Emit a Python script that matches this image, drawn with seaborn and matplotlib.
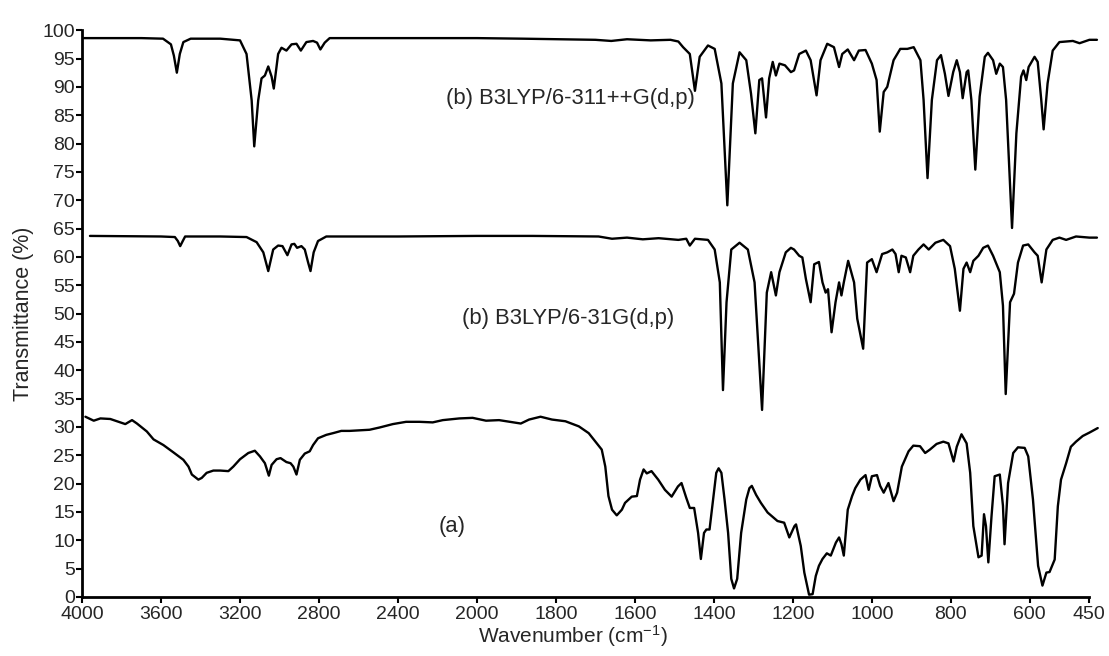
import numpy as np
import pandas as pd
import matplotlib
matplotlib.use("Agg")
import matplotlib.pyplot as plt
import seaborn as sns

# ---------------- data ----------------
wn_b1 = [3990, 3700, 3590, 3550, 3535, 3520, 3505, 3487, 3450, 3300, 3200, 3167, 3141, 3128, 3108, 3091,
         3074, 3057, 3040, 3029, 3007, 2990, 2965, 2939, 2914, 2892, 2864, 2830, 2810, 2793, 2771, 2746,
         2400, 2000, 1885, 1800, 1700, 1660, 1620, 1560, 1510, 1490, 1478, 1461, 1448, 1436, 1415, 1398,
         1381, 1366, 1352, 1335, 1318, 1306, 1295, 1285, 1278, 1268, 1260, 1251, 1243, 1234, 1220, 1205,
         1197, 1184, 1167, 1155, 1140, 1130, 1113, 1096, 1083, 1075, 1061, 1045, 1033, 1016, 1000, 988,
         980, 970, 961, 945, 928, 910, 894, 877, 869, 859, 848, 835, 825, 815, 806, 794, 785, 777, 770,
         760, 756, 748, 738, 727, 714, 706, 693, 685, 676, 668, 660, 645, 634, 622, 616, 609, 603, 588,
         580, 571, 565, 555, 542, 525, 491, 474, 449, 430]
t_b1 = [98.6, 98.6, 98.5, 97.5, 95.5, 92.5, 95.8, 97.9, 98.5, 98.5, 98.2, 95.8, 87.6, 79.5, 87.6, 91.5,
        92.0, 93.6, 91.8, 89.7, 95.8, 96.9, 96.4, 97.5, 97.6, 96.4, 97.9, 98.1, 97.8, 96.6, 97.8, 98.6,
        98.6, 98.6, 98.5, 98.4, 98.3, 98.1, 98.4, 98.2, 98.3, 98.0, 97.0, 95.8, 89.3, 95.3, 97.3, 96.7,
        90.6, 69.1, 90.6, 96.1, 94.7, 88.8, 81.8, 91.2, 91.5, 84.6, 91.5, 94.4, 92.0, 94.1, 93.8, 92.6,
        92.9, 95.8, 96.4, 94.7, 88.5, 94.7, 97.6, 97.0, 93.5, 95.8, 96.6, 94.7, 96.4, 96.5, 94.1, 91.2,
        82.1, 89.1, 90.0, 94.7, 96.7, 96.7, 97.0, 94.7, 87.7, 73.9, 87.7, 94.7, 95.6, 92.3, 88.4, 92.6,
        94.7, 92.6, 88.0, 92.6, 92.9, 87.7, 75.4, 88.3, 95.3, 96.0, 94.7, 92.3, 94.1, 93.5, 87.7, 65.1,
        81.8, 91.8, 92.9, 91.2, 93.5, 95.3, 94.4, 87.7, 82.5, 90.6, 96.4, 97.9, 98.1, 97.7, 98.3, 98.3]

wn_b2 = [3960, 3600, 3530, 3515, 3503, 3490, 3478, 3300, 3167, 3116, 3082, 3057, 3032, 3007, 2985, 2960,
         2939, 2925, 2911, 2889, 2872, 2855, 2843, 2827, 2805, 2763, 2400, 2000, 1860, 1692, 1658, 1620,
         1580, 1540, 1490, 1470, 1461, 1448, 1415, 1398, 1385, 1377, 1368, 1356, 1335, 1314, 1297, 1278,
         1266, 1255, 1243, 1234, 1218, 1205, 1197, 1184, 1176, 1167, 1155, 1146, 1134, 1125, 1117, 1111,
         1102, 1092, 1083, 1077, 1071, 1060, 1045, 1037, 1022, 1012, 1000, 988, 974, 961, 948, 940, 932,
         925, 914, 903, 895, 882, 869, 856, 839, 819, 802, 790, 777, 768, 760, 751, 743, 730, 718, 706,
         693, 676, 668, 661, 650, 640, 630, 617, 604, 588, 580, 570, 558, 542, 525, 508, 483, 449, 430]
t_b2 = [63.7, 63.6, 63.5, 62.8, 61.9, 62.8, 63.6, 63.6, 63.5, 62.6, 60.8, 57.5, 61.3, 62.0, 61.9, 60.3,
        62.2, 62.3, 61.6, 61.9, 61.3, 59.0, 57.5, 60.8, 62.8, 63.6, 63.6, 63.7, 63.7, 63.6, 63.2, 63.4,
        63.1, 63.3, 63.0, 63.2, 62.0, 63.2, 63.0, 61.3, 55.5, 36.5, 52.0, 61.3, 62.5, 61.3, 55.5, 33.0,
        53.7, 57.3, 53.2, 57.3, 60.8, 61.6, 61.3, 60.2, 59.9, 56.1, 52.0, 58.7, 59.1, 55.5, 53.7, 54.3,
        46.7, 52.0, 55.5, 53.2, 55.5, 59.3, 55.5, 49.1, 43.8, 59.0, 59.6, 57.3, 60.5, 60.8, 61.3, 60.5, 57.3,
        60.2, 59.9, 57.3, 60.2, 61.3, 62.2, 61.3, 62.5, 63.0, 61.9, 57.9, 50.5, 57.9, 59.0, 57.3, 59.3, 60.2,
        61.6, 62.0, 60.2, 57.3, 51.4, 35.8, 52.0, 53.5, 59.0, 62.0, 62.2, 60.8, 60.2, 55.5, 61.3, 63.0,
        63.4, 63.0, 63.6, 63.4, 63.4]

wn_a = [3983, 3941, 3907, 3857, 3781, 3747, 3722, 3672, 3638, 3588, 3537, 3487, 3461, 3444, 3411, 3394,
        3369, 3335, 3300, 3259, 3234, 3200, 3158, 3125, 3099, 3074, 3054, 3040, 3015, 2995, 2965, 2944,
        2930, 2914, 2897, 2872, 2847, 2830, 2805, 2763, 2729, 2687, 2645, 2594, 2544, 2493, 2426, 2359,
        2291, 2224, 2173, 2089, 2022, 1977, 1944, 1889, 1868, 1839, 1810, 1776, 1742, 1717, 1700, 1684,
        1675, 1667, 1658, 1646, 1633, 1625, 1608, 1595, 1587, 1578, 1570, 1558, 1541, 1524, 1507, 1491,
        1482, 1470, 1461, 1450, 1440, 1433, 1425, 1419, 1411, 1402, 1394, 1388, 1381, 1373, 1364, 1356,
        1349, 1341, 1331, 1318, 1310, 1304, 1293, 1281, 1264, 1239, 1222, 1209, 1196, 1192, 1180, 1171,
        1159, 1150, 1142, 1134, 1125, 1114, 1104, 1091, 1083, 1077, 1071, 1061, 1050, 1042, 1029, 1016,
        1008, 1000, 987, 979, 970, 958, 945, 936, 924, 907, 895, 878, 865, 853, 836, 819, 806, 793, 785,
        773, 760, 751, 743, 730, 722, 716, 711, 705, 697, 689, 676, 668, 664, 655, 642, 630, 613, 604,
        592, 579, 568, 558, 550, 537, 529, 521, 508, 496, 483, 466, 449, 428]
t_a = [31.8, 31.1, 31.5, 31.4, 30.5, 31.2, 30.6, 29.2, 27.8, 26.8, 25.5, 24.2, 23.0, 21.6, 20.7, 21.0,
       21.9, 22.3, 22.3, 22.2, 23.0, 24.3, 25.4, 25.8, 24.8, 23.6, 21.4, 23.3, 24.3, 24.5, 23.8, 23.6,
       23.0, 21.6, 24.2, 25.3, 25.7, 26.8, 28.0, 28.6, 28.9, 29.3, 29.3, 29.4, 29.5, 29.9, 30.5, 30.9,
       30.9, 30.8, 31.2, 31.5, 31.6, 31.1, 31.2, 30.6, 31.3, 31.8, 31.3, 31.0, 30.1, 28.9, 27.4, 26.0,
       23.0, 17.8, 15.4, 14.4, 15.4, 16.6, 17.7, 17.8, 20.7, 22.5, 21.8, 22.2, 20.7, 18.9, 17.7, 19.5,
       20.1, 17.5, 15.7, 15.7, 11.3, 6.7, 11.3, 11.9, 11.9, 17.2, 21.9, 22.7, 21.9, 17.2, 11.3, 3.2,
       1.5, 3.2, 11.3, 17.2, 19.2, 19.6, 18.0, 16.6, 14.9, 13.4, 13.1, 10.5, 12.5, 12.8, 9.0, 4.3,
       0.4, 0.5, 3.7, 5.5, 6.7, 7.7, 7.3, 9.6, 10.5, 9.3, 7.3, 15.4, 17.8, 19.2, 20.7, 21.5,
       18.9, 21.3, 21.5, 19.6, 18.4, 20.1, 16.9, 18.4, 23.0, 25.7, 26.7, 26.6, 25.4, 26.0, 27.0, 27.4, 27.1, 23.9, 26.5,
       28.7, 27.1, 21.9, 12.5, 7.0, 7.3, 14.6, 12.5, 6.1, 14.2, 21.3, 21.6, 16.1, 9.3, 20.1, 25.4, 26.4, 26.3, 24.8,
       17.2, 5.5, 2.0, 4.3, 4.4, 6.6, 16.0, 20.7, 23.6, 26.5, 27.4, 28.4, 29.0, 29.8]

x_ticks = [4000, 3600, 3200, 2800, 2400, 2000, 1800, 1600, 1400, 1200, 1000, 800, 600, 450]
y_ticks = list(range(0, 101, 5))
labels = ["(b) B3LYP/6-311++G(d,p)", "(b) B3LYP/6-31G(d,p)", "(a)"]

# ---------------- style ----------------
sns.set_style("ticks")
plt.rcParams["font.family"] = ["Liberation Sans", "DejaVu Sans"]
plt.rcParams["mathtext.fontset"] = "custom"
plt.rcParams["mathtext.rm"] = "Liberation Sans"
plt.rcParams["mathtext.it"] = "Liberation Sans:italic"
plt.rcParams["mathtext.bf"] = "Liberation Sans:bold"

fig = plt.figure(figsize=(11.09, 6.56), dpi=100)
ax = fig.add_axes([0.074, 0.09, 0.908, 0.864])

# piecewise axis: region below 2000 cm-1 is expanded x2
def fwd(x):
    x = np.asarray(x, dtype=float)
    return np.where(x >= 2000, x - 2000, (x - 2000) * 2.0)

def inv(y):
    y = np.asarray(y, dtype=float)
    return np.where(y >= 0, y + 2000, y / 2.0 + 2000)

ax.set_xscale("function", functions=(fwd, inv))

for wn, tr in [(wn_b1, t_b1), (wn_b2, t_b2), (wn_a, t_a)]:
    df = pd.DataFrame({"wn": wn, "T": tr})
    sns.lineplot(data=df, x="wn", y="T", ax=ax, color="black", linewidth=1.7,
                 sort=False, estimator=None, clip_on=False)

ax.set_xlim(4000, 450)
ax.set_ylim(0, 100)
ax.set_xticks(x_ticks)
ax.set_xticklabels([str(t) for t in x_ticks])
ax.set_yticks(y_ticks)
ax.tick_params(axis="both", labelsize=14, length=4, width=1.5, color="black")
ax.tick_params(axis="x", pad=2.5)
ax.tick_params(axis="y", pad=1)
for s in ["top", "right"]:
    ax.spines[s].set_visible(False)
for s in ["left", "bottom"]:
    ax.spines[s].set_linewidth(2)
    ax.spines[s].set_color("black")

ax.set_xlabel(r"Wavenumber (cm$^{-1}$)", fontsize=15)
ax.set_ylabel("Transmittance (%)", fontsize=15.5, labelpad=6)
ax.xaxis.set_label_coords(0.487, -0.047)

ax.text(2155, 87.9, labels[0], fontsize=15.8, ha="left", va="center")
ax.text(2074, 49.1, labels[1], fontsize=15.8, ha="left", va="center")
ax.text(2125, 12.5, labels[2], fontsize=15.8, ha="center", va="center")

fig.savefig("out.png", dpi=100)
